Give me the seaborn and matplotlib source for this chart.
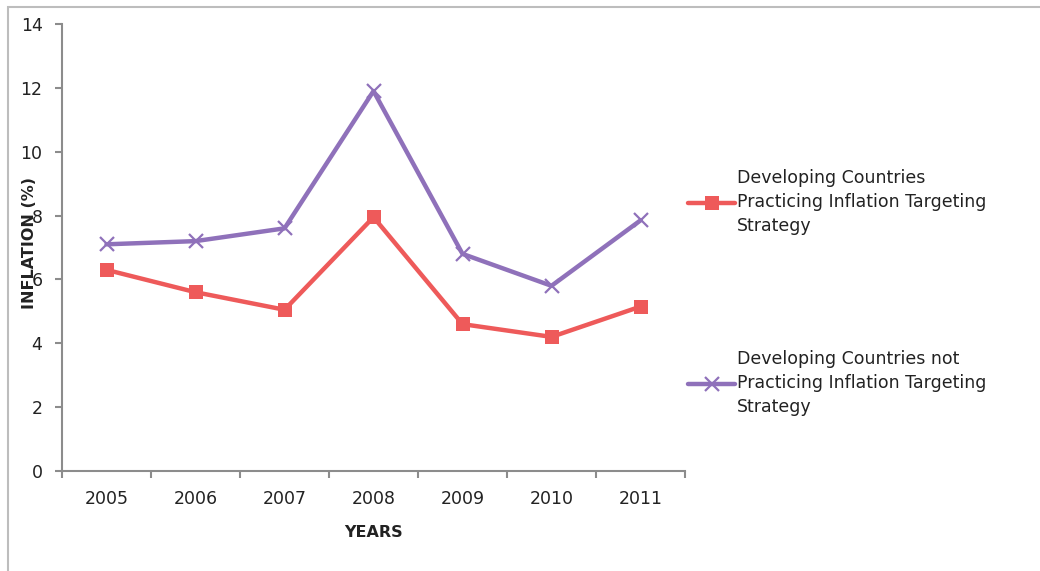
import pandas as pd
import matplotlib.pyplot as plt
import seaborn as sns
from matplotlib.patches import Rectangle

years = ['2005', '2006', '2007', '2008', '2009', '2010', '2011']
targeting = [6.3, 5.6, 5.05, 7.95, 4.6, 4.2, 5.15]
not_targeting = [7.1, 7.2, 7.6, 11.9, 6.8, 5.8, 7.85]
label_t = 'Developing Countries\nPracticing Inflation Targeting\nStrategy'
label_nt = 'Developing Countries not\nPracticing Inflation Targeting\nStrategy'

df = pd.DataFrame({'year': years, 'targeting': targeting, 'not_targeting': not_targeting})

sns.set_style('white')
plt.rcParams['font.family'] = ['DejaVu Sans']

fig = plt.figure(figsize=(10.4, 5.71), dpi=100)
ax = fig.add_axes([62 / 1040, 1 - 471 / 571, (685 - 62) / 1040, (471 - 24) / 571])

red = '#EE5A5A'
purple = '#8F71BA'
sns.lineplot(data=df, x='year', y='targeting', ax=ax, color=red, lw=3.2,
             marker='s', markersize=10, markeredgecolor=red, markeredgewidth=0,
             label=label_t, sort=False)
sns.lineplot(data=df, x='year', y='not_targeting', ax=ax, color=purple, lw=3.2,
             marker='x', markersize=10, markeredgecolor=purple, markeredgewidth=1.6,
             label=label_nt, sort=False)

ax.set_xlim(-0.5, 6.5)
ax.set_ylim(0, 14)
ax.set_yticks(range(0, 15, 2))
ax.set_xticks(range(7))
ax.set_xticklabels(years)
ax.set_xticks([i - 0.5 for i in range(8)], minor=True)
ax.tick_params(axis='x', which='major', bottom=True, length=0, pad=14, labelsize=12.5,
               labelcolor='#222222')
ax.tick_params(axis='x', which='minor', bottom=True, length=5, width=1.5,
               color='#8C8C8C', direction='out')
ax.tick_params(axis='y', left=True, length=5, width=1.5, color='#8C8C8C', pad=9,
               labelsize=12.5, labelcolor='#222222')
for s in ['top', 'right']:
    ax.spines[s].set_visible(False)
for s in ['left', 'bottom']:
    ax.spines[s].set_color('#8C8C8C')
    ax.spines[s].set_linewidth(1.5)

ax.set_xlabel('YEARS', fontsize=11.5, fontweight='bold', color='#222222', labelpad=12)
ax.set_ylabel('INFLATION (%)', fontsize=11.5, fontweight='bold', color='#222222')
ax.yaxis.set_label_coords(-0.04, 0.51)

leg = ax.legend(loc='upper left', bbox_to_anchor=(0.994, 0.692), frameon=False,
                fontsize=12.5, handlelength=2.7, handletextpad=0.1, labelspacing=6.6,
                borderaxespad=0)
for t in leg.get_texts():
    t.set_color('#222222')
    t.set_linespacing(1.45)

fig.patches.append(Rectangle((8 / 1040, -0.1), 1.2, 1 - 7 / 571 + 0.1,
                             transform=fig.transFigure, fill=False,
                             edgecolor='#BDBDBD', lw=1.5, zorder=0))

plt.savefig('out.png', dpi=100)
